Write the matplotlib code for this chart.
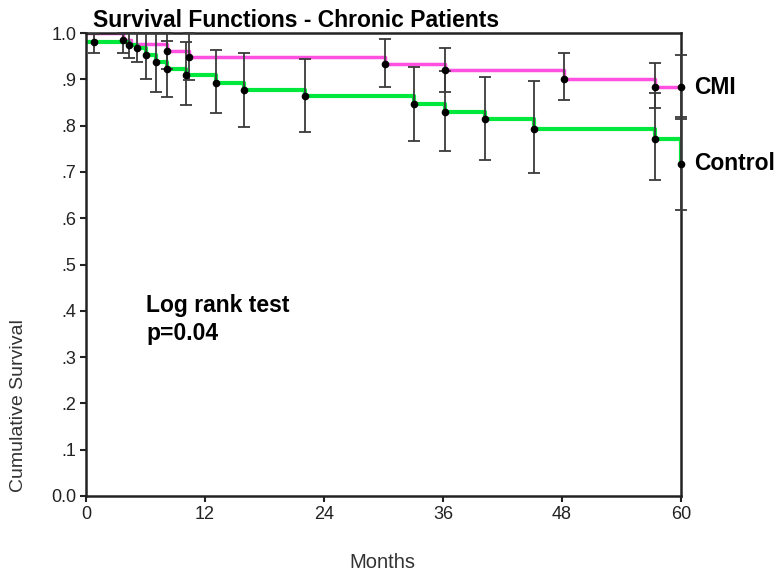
import matplotlib
matplotlib.use("Agg")
import matplotlib.pyplot as plt
from matplotlib.ticker import FixedLocator, FixedFormatter

plt.rcParams['font.family'] = ['Liberation Sans', 'DejaVu Sans']

# step curves (months, cumulative survival)
cmi_t = [0, 3.7, 4.5, 8.2, 10.4, 30.2, 36.2, 48.2, 57.35, 60]
cmi_s = [1.0, 0.985, 0.976, 0.961, 0.949, 0.934, 0.920, 0.901, 0.883, 0.883]

ctl_t = [0, 4.3, 5.1, 6.1, 7.1, 8.2, 10.1, 13.1, 15.9, 22.1, 33.05, 36.2, 40.2, 45.2, 57.35, 60]
ctl_s = [0.981, 0.974, 0.967, 0.952, 0.937, 0.922, 0.909, 0.893, 0.877, 0.865, 0.847,
         0.829, 0.814, 0.793, 0.771, 0.716]

# points with confidence bars
cmi_pt = [3.7, 8.2, 10.4, 30.2, 36.2, 48.2, 57.35, 60]
cmi_pv = [0.985, 0.961, 0.949, 0.934, 0.920, 0.901, 0.883, 0.883]
cmi_lo = [0.957, 0.923, 0.899, 0.883, 0.872, 0.855, 0.838, 0.818]
cmi_hi = [1.0, 1.0, 1.0, 0.987, 0.968, 0.956, 0.935, 0.952]

ctl_pt = [0.8, 4.3, 5.1, 6.1, 7.1, 8.2, 10.1, 13.1, 15.9, 22.1, 33.05, 36.2, 40.2, 45.2, 57.35, 60]
ctl_pv = [0.981, 0.974, 0.967, 0.952, 0.937, 0.922, 0.909, 0.893, 0.877, 0.865, 0.847,
          0.829, 0.814, 0.793, 0.771, 0.716]
ctl_lo = [0.957, 0.945, 0.937, 0.901, 0.872, 0.861, 0.844, 0.827, 0.798, 0.787, 0.767,
          0.745, 0.726, 0.697, 0.683, 0.618]
ctl_hi = [0.997, 1.0, 1.0, 1.0, 1.0, 0.983, 0.981, 0.963, 0.956, 0.943, 0.926,
          0.918, 0.906, 0.897, 0.870, 0.815]

x_ticks = [0, 12, 24, 36, 48, 60]
y_ticks = [0.0, 0.1, 0.2, 0.3, 0.4, 0.5, 0.6, 0.7, 0.8, 0.9, 1.0]
y_labels = ['0.0', '.1', '.2', '.3', '.4', '.5', '.6', '.7', '.8', '.9', '1.0']

fig = plt.figure(figsize=(7.78, 5.74), dpi=100)
ax = fig.add_axes([86 / 778, 1 - 496 / 574, 595 / 778, 463 / 574])

ax.step(cmi_t, cmi_s, where='post', color='#ff50e0', lw=2.5, zorder=2)
ax.step(ctl_t, ctl_s, where='post', color='#00e83c', lw=3, zorder=2)

for pt, pv, lo, hi in [(cmi_pt, cmi_pv, cmi_lo, cmi_hi), (ctl_pt, ctl_pv, ctl_lo, ctl_hi)]:
    err = [[v - l for v, l in zip(pv, lo)], [h - v for v, h in zip(pv, hi)]]
    ax.errorbar(pt, pv, yerr=err, fmt='none', ecolor='#3a3a3a', elinewidth=1.3,
                capsize=4, capthick=1.3, zorder=3, clip_on=False)
    ax.plot(pt, pv, 'o', color='black', ms=4.5, zorder=4, clip_on=False)

ax.set_xlim(0, 60)
ax.set_ylim(0, 1.0)
ax.xaxis.set_major_locator(FixedLocator(x_ticks))
ax.yaxis.set_major_locator(FixedLocator(y_ticks))
ax.yaxis.set_major_formatter(FixedFormatter(y_labels))
ax.tick_params(direction='out', length=4, width=1.5, colors='#222222',
               labelsize=13, labelcolor='#222222', pad=3)
for sp in ax.spines.values():
    sp.set_linewidth(1.8)
    sp.set_color('#222222')

ax.text(61.3, 0.883, 'CMI', fontsize=16.5, fontweight='bold', va='center', clip_on=False)
ax.text(61.3, 0.719, 'Control', fontsize=16.5, fontweight='bold', va='center', clip_on=False)
ax.text(6.1, 0.412, 'Log rank test', fontsize=16.5, fontweight='bold', va='center')
ax.text(6.1, 0.352, 'p=0.04', fontsize=16.5, fontweight='bold', va='center')

fig.text(93 / 778, 1 - 27 / 574, 'Survival Functions - Chronic Patients',
         fontsize=16.5, fontweight='bold', va='baseline', ha='left')
fig.text(19 / 778, 1 - 406 / 574, 'Cumulative Survival', rotation=90,
         fontsize=14, color='#333333', ha='center', va='center')
fig.text(382 / 778, 1 - 563 / 574, 'Months', fontsize=14.5, color='#333333',
         ha='center', va='center')

fig.savefig('out.png', dpi=100)
